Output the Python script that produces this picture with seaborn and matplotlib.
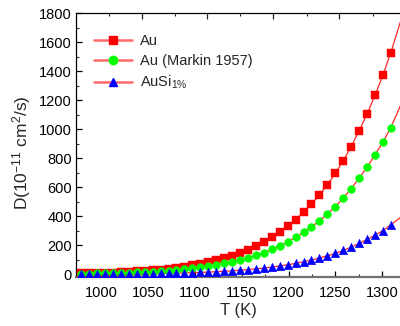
import matplotlib
matplotlib.use("Agg")
import matplotlib.pyplot as plt
import seaborn as sns
import pandas as pd
from matplotlib.lines import Line2D

# ---- data ----
T = [978.0, 986.5, 995.0, 1003.5, 1012.0, 1020.5, 1029.0, 1037.5, 1046.0, 1054.5,
     1063.0, 1071.5, 1080.0, 1088.5, 1097.0, 1105.5, 1114.0, 1122.5, 1131.0, 1139.5,
     1148.0, 1156.5, 1165.0, 1173.5, 1182.0, 1190.5, 1199.0, 1207.5, 1216.0, 1224.5,
     1233.0, 1241.5, 1250.0, 1258.5, 1267.0, 1275.5, 1284.0, 1292.5, 1301.0, 1309.5]

au = [5.4, 6.6, 7.9, 9.5, 11.5, 13.7, 16.4, 19.4, 23.1, 27.3,
      32.2, 37.9, 44.5, 52.1, 60.8, 70.9, 82.4, 95.6, 110.6, 127.6,
      147, 169, 194, 222, 256, 292, 329, 377, 427, 483,
      546, 616, 695, 781, 880, 988, 1105, 1232, 1372, 1528]

au_markin = [3.6, 4.4, 5.3, 6.4, 7.7, 9.2, 11.0, 13.0, 15.5, 18.3,
             21.6, 25.4, 29.8, 34.9, 40.7, 47.5, 55.2, 64.1, 74.1, 85.5,
             98.5, 113, 130, 149, 171, 194, 223, 254, 290, 325,
             368, 414, 466, 524, 590, 662, 737, 823, 910, 1011]

ausi = [0.8, 1.0, 1.2, 1.5, 1.8, 2.2, 2.6, 3.1, 3.8, 4.5,
        5.4, 6.4, 7.6, 9.0, 10.7, 12.6, 14.8, 17.3, 20.3, 23.6,
        27.5, 32.0, 37.1, 42.9, 49.5, 57, 65, 75, 86, 98,
        112, 127, 143, 164, 187, 212, 240, 268, 301, 340]

# fit-line end points read at the plot edges
T_left, T_right = 972.0, 1320.0
au_ends = [4.7, 1745]
au_markin_ends = [3.1, 1165]
ausi_ends = [0.7, 392]

labels = ["Au", "Au (Markin 1957)", r"AuSi$_{1\%}$"]
colors = ["#FF0000", "#00FF00", "#0000FF"]
markers = ["s", "o", "^"]
sizes = [30, 32, 38]

# ---- style ----
sns.set_style("ticks")
plt.rcParams["font.family"] = ["Liberation Sans", "DejaVu Sans"]
plt.rcParams["mathtext.fontset"] = "custom"
plt.rcParams["mathtext.rm"] = "Liberation Sans"
plt.rcParams["mathtext.it"] = "Liberation Sans:italic"
plt.rcParams["mathtext.bf"] = "Liberation Sans:bold"

fig = plt.figure(figsize=(4.00, 3.26), dpi=100)
ax = fig.add_axes([0.19, 0.149, 0.81, 0.811])

series = [au, au_markin, ausi]
ends = [au_ends, au_markin_ends, ausi_ends]

rows_pts = []
rows_fit = []
for lab, vals, e in zip(labels, series, ends):
    for t, v in zip(T, vals):
        rows_pts.append({"T": t, "D": v, "series": lab})
    fit_T = [T_left] + T + [T_right]
    fit_D = [e[0]] + vals + [e[1]]
    for t, v in zip(fit_T, fit_D):
        rows_fit.append({"T": t, "D": v, "series": lab})

df_pts = pd.DataFrame(rows_pts)
df_fit = pd.DataFrame(rows_fit)

sns.lineplot(data=df_fit, x="T", y="D", units="series", estimator=None,
             color="#FF2A2A", linewidth=0.9, sort=True, ax=ax, legend=False, zorder=2)
for lab, c, m, sz in zip(labels, colors, markers, sizes):
    sub = df_pts[df_pts["series"] == lab]
    sns.scatterplot(data=sub, x="T", y="D", color=c, marker=m, s=sz,
                    edgecolor=c, linewidth=0.3, ax=ax, legend=False, zorder=3)

ax.set_xlim(972.4, 1319.3)
ax.set_ylim(-22, 1800)
ax.set_xticks([1000, 1050, 1100, 1150, 1200, 1250, 1300])
ax.set_xticks([975, 1025, 1075, 1125, 1175, 1225, 1275], minor=True)
ax.set_yticks(list(range(0, 1801, 200)))
ax.set_yticks(list(range(100, 1800, 200)), minor=True)
ax.tick_params(axis="both", which="major", direction="in", length=4, width=0.9,
               labelsize=10.5, colors="black", pad=3)
ax.tick_params(axis="both", which="minor", direction="in", length=2.5, width=0.8)
ax.tick_params(axis="x", pad=6)

for s in ["left", "top"]:
    ax.spines[s].set_color("black")
    ax.spines[s].set_linewidth(0.9)
ax.spines["bottom"].set_color("#707070")
ax.spines["bottom"].set_linewidth(1.6)
ax.spines["right"].set_visible(False)

ax.set_xlabel("T (K)", fontsize=12, labelpad=2)
ax.set_ylabel(r"D(10$^{-11}$ cm$^2$/s)", fontsize=12.5)
ax.yaxis.set_label_coords(-0.133, 0.47)

# top axis ticks (unlabeled)
top = ax.twiny()
top.set_xlim(ax.get_xlim())
top.set_xticks([1042.7, 1113.0, 1183.6, 1254.3])
top.set_xticks([1007.7, 1078.4, 1148.0, 1219.4, 1290.0], minor=True)
top.tick_params(axis="x", which="major", direction="in", length=4, width=0.9, labeltop=False)
top.tick_params(axis="x", which="minor", direction="in", length=2.5, width=0.8)
for s in top.spines.values():
    s.set_visible(False)

handles = [Line2D([0], [0], color="#FF6A6A", linewidth=1.8, marker=m,
                  markerfacecolor=c, markeredgecolor=c, markersize=6)
           for c, m in zip(colors, markers)]
ax.legend(handles, labels, loc="upper left", bbox_to_anchor=(0.03, 0.955),
          frameon=False, fontsize=10.5, handlelength=2.6, handletextpad=0.5,
          labelspacing=0.42, borderaxespad=0.2)

fig.savefig("out.png", dpi=100)
